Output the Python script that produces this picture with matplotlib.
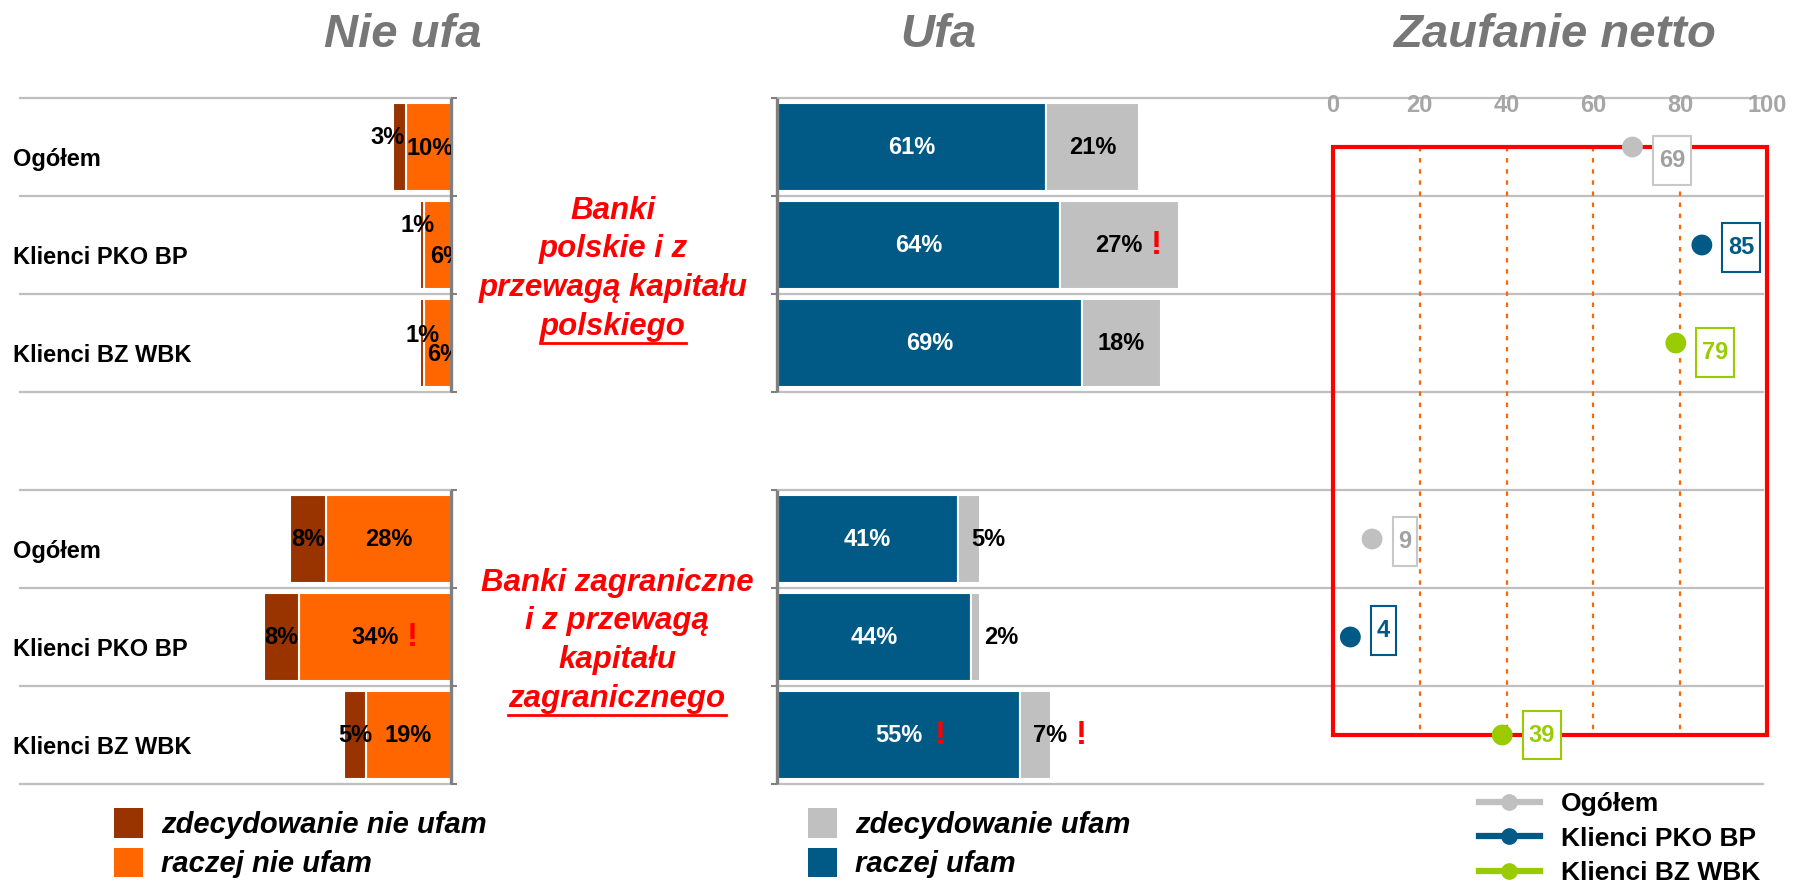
import numpy as np
import matplotlib
matplotlib.use('Agg')
import matplotlib.pyplot as plt
from matplotlib.patches import Patch, Rectangle
from matplotlib.lines import Line2D

plt.rcParams['font.family'] = ['Liberation Sans', 'DejaVu Sans']

# --- data -------------------------------------------------------------
groups = ['Ogółem', 'Klienci PKO BP', 'Klienci BZ WBK']
row_labels = groups + groups                 # banki polskie, banki zagraniczne

distrust_strong = [3, 1, 1, 8, 8, 5]         # zdecydowanie nie ufam
distrust_rather = [10, 6, 6, 28, 34, 19]     # raczej nie ufam
trust_rather = [61, 64, 69, 41, 44, 55]      # raczej ufam
trust_strong = [21, 27, 18, 5, 2, 7]         # zdecydowanie ufam
net_trust = [69, 85, 79, 9, 4, 39]           # zaufanie netto

# red "!" after a value
flag_distrust_rather = [False, False, False, False, True, False]
flag_trust_rather = [False, False, False, False, False, True]
flag_trust_strong = [False, True, False, False, False, True]

net_ticks = [0, 20, 40, 60, 80, 100]

block_pl = ['Banki', 'polskie i z', 'przewagą kapitału', 'polskiego']
block_zagr = ['Banki zagraniczne', 'i z przewagą', 'kapitału', 'zagranicznego']

# --- style ------------------------------------------------------------
DARK = '#993300'
ORANGE = '#FF6600'
BLUE = '#005A85'
LGRAY = '#C0C0C0'
GREEN = '#99CC00'
GRID = '#BFBFBF'
AXIS = '#808080'
series_col = [LGRAY, BLUE, GREEN] * 2
series_txt = ['#A0A0A0', BLUE, GREEN] * 2
series_edge = ['#C8C8C8', BLUE, GREEN] * 2

W, H = 1798, 883
fig = plt.figure(figsize=(W / 100, H / 100), dpi=100)


def box(x0, y0, x1, y1):
    return [x0 / W, 1 - y1 / H, (x1 - x0) / W, (y1 - y0) / H]


ax_l = fig.add_axes(box(20, 98, 451, 784))
ax_m = fig.add_axes(box(777, 98, 1333, 784))
ax_r = fig.add_axes(box(1333, 98, 1770, 784))

y = np.array([0, 1, 2, 4, 5, 6])
bounds = [-0.5, 0.5, 1.5, 2.5, 3.5, 4.5, 5.5, 6.5]

ax_l.set_xlim(96.6, 0)
ax_m.set_xlim(0, 125.9)
ax_r.set_xlim(0, 100.7)

for ax in (ax_l, ax_m, ax_r):
    ax.set_ylim(6.5, -0.5)
    for s in ax.spines.values():
        s.set_visible(False)
    ax.set_xticks([])
    ax.set_yticks([])

for b in bounds:
    ax_l.axhline(b, color=GRID, lw=1.6, zorder=1, clip_on=False)
    ax_m.axhline(b, color=GRID, lw=1.6, zorder=1, clip_on=False)
    ax_r.axhline(b, xmax=99.2 / 100.7, color=GRID, lw=1.6, zorder=1, clip_on=False)

# broken value axes with small ticks
for ax, side in ((ax_l, 'right'), (ax_m, 'left')):
    ax.vlines(0, -0.5, 2.5, color=AXIS, lw=2.4, zorder=5, clip_on=False)
    ax.vlines(0, 3.5, 6.5, color=AXIS, lw=2.4, zorder=5, clip_on=False)
    ax.set_yticks(bounds)
    if side == 'right':
        ax.yaxis.tick_right()
    ax.tick_params(axis='y', length=4, width=1.5, color=AXIS,
                   labelleft=False, labelright=False)

bang = dict(ha='left', va='center', color='#FF0000', fontsize=24, fontweight='bold',
            textcoords='offset points')

# --- left: nie ufa ------------------------------------------------------
ax_l.barh(y, distrust_rather, height=0.9, color=ORANGE, edgecolor='white', lw=1.5, zorder=2)
ax_l.barh(y, distrust_strong, left=distrust_rather, height=0.9, color=DARK,
          edgecolor='white', lw=1.5, zorder=2)

# small segments in the top group have their labels nudged (dx in %, dy in rows)
nudge_strong = [(2.8, -0.1), (1.1, -0.2), (-0.2, -0.08), (0, 0), (0, 0), (0, 0)]
nudge_rather = [(-0.3, 0.02), (-2.1, 0.12), (-1.4, 0.12), (0, 0), (0, 0), (0, 0)]
lab_font = dict(fontsize=17, fontweight='bold')
for i, yy in enumerate(y):
    dr, ds = distrust_rather[i], distrust_strong[i]
    ax_l.text(dr + ds / 2 + nudge_strong[i][0], yy + nudge_strong[i][1], f'{ds}%',
              ha='center', va='center', color='black', zorder=6, **lab_font)
    t = ax_l.text(dr / 2 + nudge_rather[i][0], yy + nudge_rather[i][1], f'{dr}%',
                  ha='center', va='center', color='black', clip_on=True, zorder=6, **lab_font)
    if flag_distrust_rather[i]:
        ax_l.annotate('!', xy=(1, 0.5), xycoords=t, xytext=(6, 0), **bang)
    ax_l.text(-0.016, yy + 0.13, row_labels[i], transform=ax_l.get_yaxis_transform(),
              ha='left', va='center', **lab_font)

# --- middle: ufa --------------------------------------------------------
ax_m.barh(y, trust_rather, height=0.9, color=BLUE, edgecolor='white', lw=1.5, zorder=2)
ax_m.barh(y, trust_strong, left=trust_rather, height=0.9, color=LGRAY,
          edgecolor='white', lw=1.5, zorder=2)
for i, yy in enumerate(y):
    tr, ts = trust_rather[i], trust_strong[i]
    t1 = ax_m.text(tr / 2, yy, f'{tr}%', ha='center', va='center', color='white',
                   zorder=6, **lab_font)
    if flag_trust_rather[i]:
        ax_m.annotate('!', xy=(1, 0.5), xycoords=t1, xytext=(9, 0), **bang)
    if ts >= 10:
        t2 = ax_m.text(tr + ts / 2, yy, f'{ts}%', ha='center', va='center', zorder=6, **lab_font)
    else:
        t2 = ax_m.text(tr + 3, yy, f'{ts}%', ha='left', va='center', zorder=6, **lab_font)
    if flag_trust_strong[i]:
        ax_m.annotate('!', xy=(1, 0.5), xycoords=t2, xytext=(6, 0), **bang)

# --- right: zaufanie netto ----------------------------------------------
ax_r.add_patch(Rectangle((net_ticks[0], y[0]), net_ticks[-1] - net_ticks[0], y[-1] - y[0],
                         fill=False, edgecolor='#FF0000', lw=3, zorder=3, clip_on=False))
ax_r.vlines(net_ticks[1:-1], y[0], y[-1], color=ORANGE, lw=1.6,
            linestyles=(0, (2, 3)), zorder=2)
for t in net_ticks:
    ax_r.text(t, -0.42, str(t), ha='center', va='center', fontsize=17, fontweight='bold',
              color='#A6A6A6', clip_on=False, zorder=4)

ax_r.scatter(net_trust, y, s=225, c=series_col, zorder=5, clip_on=False, linewidths=0)
label_dy = [-10, -2, -7, -2, 5, 0]
for i, yy in enumerate(y):
    ax_r.annotate(str(net_trust[i]), xy=(net_trust[i], yy), xytext=(19, label_dy[i]),
                  textcoords='offset points', ha='left', va='center', fontsize=17,
                  fontweight='bold', color=series_txt[i], zorder=6,
                  bbox=dict(boxstyle='square,pad=0.25', fc='white', ec=series_edge[i],
                            lw=1.5, mutation_aspect=2.2))

# --- titles -------------------------------------------------------------
title_font = dict(fontsize=34, fontweight='bold', style='italic', color='#777777',
                  ha='center', va='center')
fig.text(403 / W, 1 - 35 / H, 'Nie ufa', **title_font)
fig.text(938 / W, 1 - 35 / H, 'Ufa', **title_font)
fig.text(1555 / W, 1 - 35 / H, 'Zaufanie netto', **title_font)

# --- red group captions -------------------------------------------------
red_font = dict(fontsize=22.5, fontweight='bold', style='italic', color='#FF0000',
                ha='center', va='baseline')
underlined = []
for lines, x_c, base0 in ((block_pl, 613, 219), (block_zagr, 617, 591)):
    for k, line in enumerate(lines):
        base = base0 + 38.5 * k
        t = fig.text(x_c / W, 1 - base / H, line, **red_font)
        if k == len(lines) - 1:
            underlined.append((t, base))

# --- legends ------------------------------------------------------------
leg_font = dict(weight='bold', style='italic', size=21)
fig.legend(handles=[Patch(fc=DARK), Patch(fc=ORANGE)],
           labels=['zdecydowanie nie ufam', 'raczej nie ufam'],
           loc='upper left', bbox_to_anchor=(114 / W, 1 - 808 / H), frameon=False,
           prop=leg_font, handlelength=1.0, handleheight=1.2, handletextpad=0.6,
           labelspacing=0.3, borderpad=0, borderaxespad=0)
fig.legend(handles=[Patch(fc=LGRAY), Patch(fc=BLUE)],
           labels=['zdecydowanie ufam', 'raczej ufam'],
           loc='upper left', bbox_to_anchor=(808 / W, 1 - 808 / H), frameon=False,
           prop=leg_font, handlelength=1.0, handleheight=1.2, handletextpad=0.6,
           labelspacing=0.3, borderpad=0, borderaxespad=0)
fig.legend(handles=[Line2D([], [], color=c, lw=4.5, marker='o', ms=11) for c in series_col[:3]],
           labels=groups, loc='upper left', bbox_to_anchor=(1479 / W, 1 - 792 / H),
           frameon=False, prop=dict(weight='bold', size=19), handlelength=2.3,
           handletextpad=0.8, labelspacing=0.4, borderpad=0, borderaxespad=0)

# underline the last caption line of each block
fig.canvas.draw()
renderer = fig.canvas.get_renderer()
for t, base in underlined:
    bb = t.get_window_extent(renderer)
    yl = 1 - (base + 8) / H
    fig.add_artist(Line2D([bb.x0 / W, bb.x1 / W], [yl, yl], transform=fig.transFigure,
                          color='#FF0000', lw=2))

fig.savefig('out.png', dpi=100)
